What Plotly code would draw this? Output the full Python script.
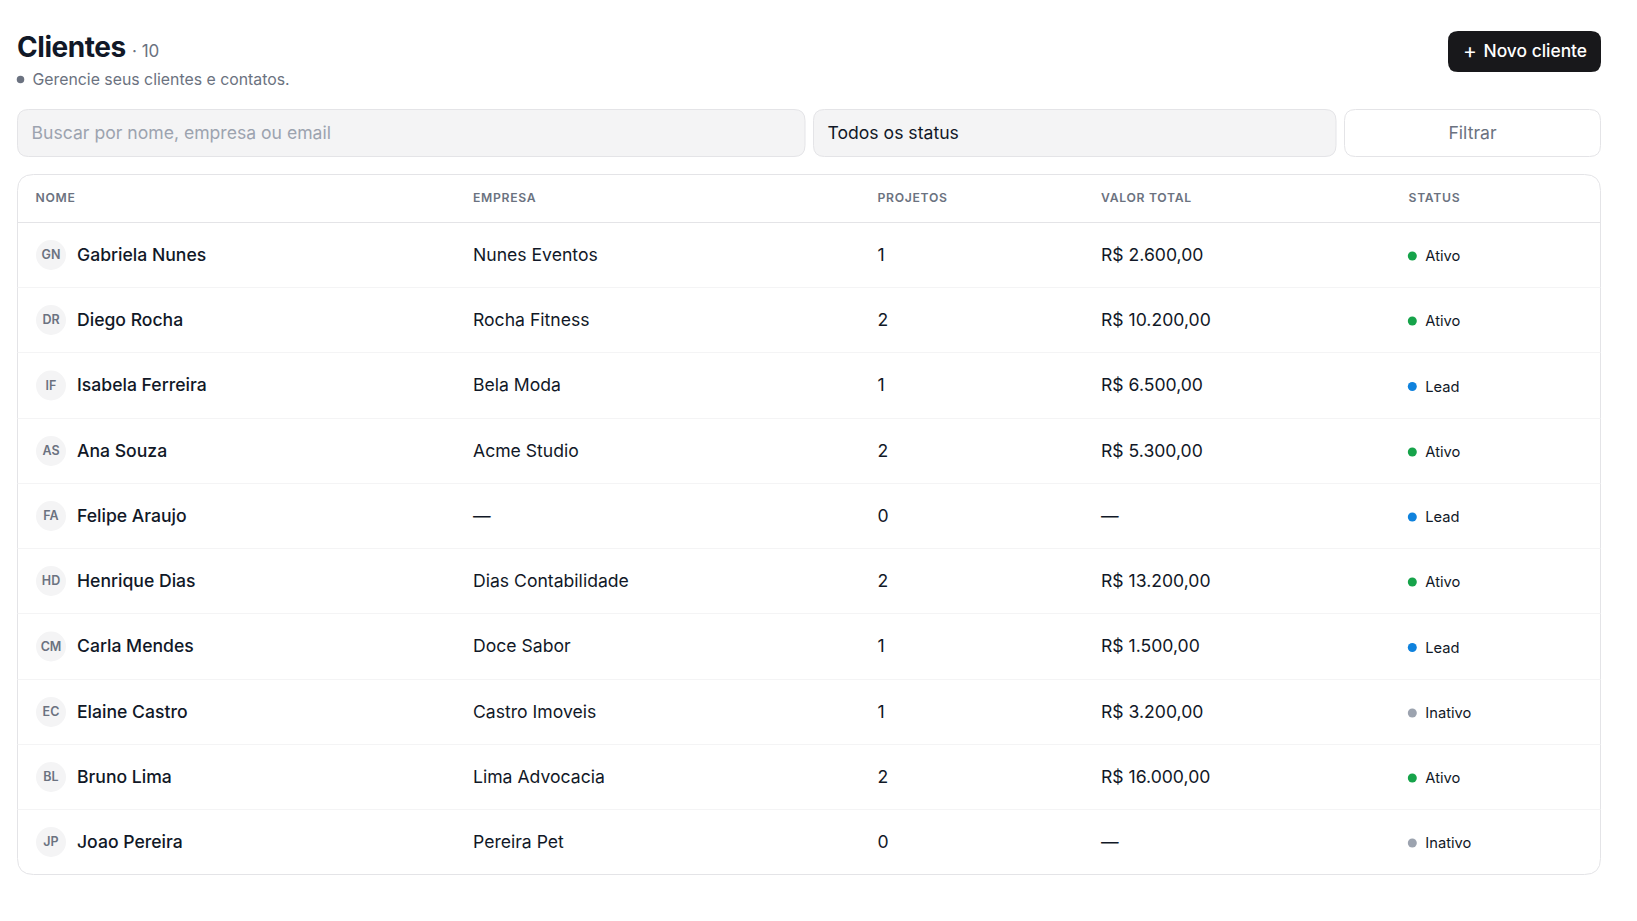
import plotly.graph_objects as go

TITLE = "Clientes"
COUNT = "· 10"
SUBTITLE = "Gerencie seus clientes e contatos."
PLACEHOLDER = "Buscar por nome, empresa ou email"
SELECT_LABEL = "Todos os status"
FILTER_LABEL = "Filtrar"
BUTTON_ICON = "+"
BUTTON_LABEL = "Novo cliente"
headers = ["NOME", "EMPRESA", "PROJETOS", "VALOR TOTAL", "STATUS"]
initials = ["GN", "DR", "IF", "AS", "FA", "HD", "CM", "EC", "BL", "JP"]
names = ["Gabriela Nunes", "Diego Rocha", "Isabela Ferreira", "Ana Souza", "Felipe Araujo",
         "Henrique Dias", "Carla Mendes", "Elaine Castro", "Bruno Lima", "Joao Pereira"]
companies = ["Nunes Eventos", "Rocha Fitness", "Bela Moda", "Acme Studio", "—",
             "Dias Contabilidade", "Doce Sabor", "Castro Imoveis", "Lima Advocacia", "Pereira Pet"]
projects = [1, 2, 1, 2, 0, 2, 1, 1, 2, 0]
totals = ["R$ 2.600,00", "R$ 10.200,00", "R$ 6.500,00", "R$ 5.300,00", "—",
          "R$ 13.200,00", "R$ 1.500,00", "R$ 3.200,00", "R$ 16.000,00", "—"]
statuses = ["Ativo", "Ativo", "Lead", "Ativo", "Lead", "Ativo", "Lead", "Inativo", "Ativo", "Inativo"]

W, H = 1637, 921
FONT = "Inter"
INK, GRAY, MUTED = "#111827", "#6b7280", "#9ca3af"
BORDER, SOFT, FILL = "#e4e4e7", "#f4f4f5", "#f4f4f5"
STATUS_COLOR = {"Ativo": "#16a34a", "Lead": "#0f82dd", "Inativo": "#9ca3af"}
RULES = [222.5, 287.5, 352.5, 418.5, 483.5, 548.5, 613.5, 679.5, 744.5, 809.5, 874.5]
ys = [(a + b) / 2 for a, b in zip(RULES, RULES[1:])]
tys = [y + 1.2 for y in ys]
COLX = [35.5, 473, 877.5, 1101, 1408.5]


def rrect(x0, y0, x1, y1, r, fill, line):
    p = (f"M{x0+r},{y0} L{x1-r},{y0} Q{x1},{y0} {x1},{y0+r} L{x1},{y1-r} Q{x1},{y1} {x1-r},{y1} "
         f"L{x0+r},{y1} Q{x0},{y1} {x0},{y1-r} L{x0},{y0+r} Q{x0},{y0} {x0+r},{y0} Z")
    return dict(type="path", path=p, fillcolor=fill, line=dict(color=line or "rgba(0,0,0,0)", width=1),
                layer="below", xref="x", yref="y")


shapes = [
    rrect(17.5, 109.5, 805, 156.5, 11, FILL, BORDER),
    rrect(813.5, 109.5, 1336, 156.5, 11, FILL, BORDER),
    rrect(1344.5, 109.5, 1600.5, 156.5, 11, "#ffffff", BORDER),
    rrect(1448, 31, 1601, 72, 10, "#18181b", None),
    rrect(17.5, 174.5, 1600.5, 874.5, 16, "#ffffff", BORDER),
    dict(type="line", x0=17.5, x1=1600.5, y0=RULES[0], y1=RULES[0], line=dict(color=BORDER, width=1), layer="below"),
]
for yy in RULES[1:-1]:
    shapes.append(dict(type="line", x0=17.5, x1=1600.5, y0=yy, y1=yy, line=dict(color=SOFT, width=1), layer="below"))

fig = go.Figure()


def text(x, y, s, size, color, weight=400, pos="middle right"):
    fig.add_trace(go.Scatter(x=x, y=y, text=s, mode="text", textposition=pos,
                             textfont=dict(family=FONT, size=size, color=color, weight=weight),
                             hoverinfo="skip", showlegend=False, cliponaxis=False))


def dots(x, y, size, color):
    fig.add_trace(go.Scatter(x=x, y=y, mode="markers", hoverinfo="skip", showlegend=False,
                             marker=dict(size=size, color=color, line=dict(width=0))))


text([17], [50], [TITLE], 28, INK, 700)
text([132], [52.5], [COUNT], 17, GRAY)
dots([20.5], [79.5], 7.5, GRAY)
text([32.5], [81.5], [SUBTITLE], 15.84, GRAY)
text([31.5], [135], [PLACEHOLDER], 17.6, MUTED)
text([827.5], [135], [SELECT_LABEL], 17.6, INK)
text([1472.5], [135], [FILTER_LABEL], 17.6, GRAY, pos="middle center")
text([1463], [53], [BUTTON_ICON], 21, "#ffffff", 400)
text([1483.5], [53], [BUTTON_LABEL], 17.4, "#ffffff", 500)
text(COLX, [198.5] * 5, headers, 12.2, GRAY, 600)

dots([51] * 10, ys, 30, FILL)
text([51] * 10, tys, initials, 12.5, GRAY, 600, pos="middle center")
text([77] * 10, tys, names, 17.6, INK, 500)
text([473] * 10, tys, companies, 17.6, INK)
text([877.5] * 10, tys, [str(p) for p in projects], 17.6, INK)
text([1101] * 10, tys, totals, 17.6, INK)
dots([1412.3] * 10, [y + 1.0 for y in ys], 9, [STATUS_COLOR[s] for s in statuses])
text([1425.3] * 10, [y + 1.2 for y in tys], statuses, 14.7, INK)

fig.update_layout(width=W, height=H, margin=dict(l=0, r=0, t=0, b=0), paper_bgcolor="#ffffff",
                  plot_bgcolor="#ffffff", shapes=shapes, showlegend=False,
                  xaxis=dict(range=[0, W], visible=False, fixedrange=True),
                  yaxis=dict(range=[H, 0], visible=False, fixedrange=True))
spaced = "[" + ",".join(f'"{h}"' for h in headers) + "]"
fig.write_html("out.html", config={"displayModeBar": False},
               post_script="document.body.style.margin='0';document.body.style.overflow='hidden';"
                           f"var H={spaced};document.querySelectorAll('.textpoint text').forEach(function(t){{"
                           "if(H.indexOf(t.textContent)>=0){t.style.letterSpacing='0.7px';}"
                           f"if(t.textContent==='{TITLE}'){{t.style.letterSpacing='-0.45px';}}}});")
